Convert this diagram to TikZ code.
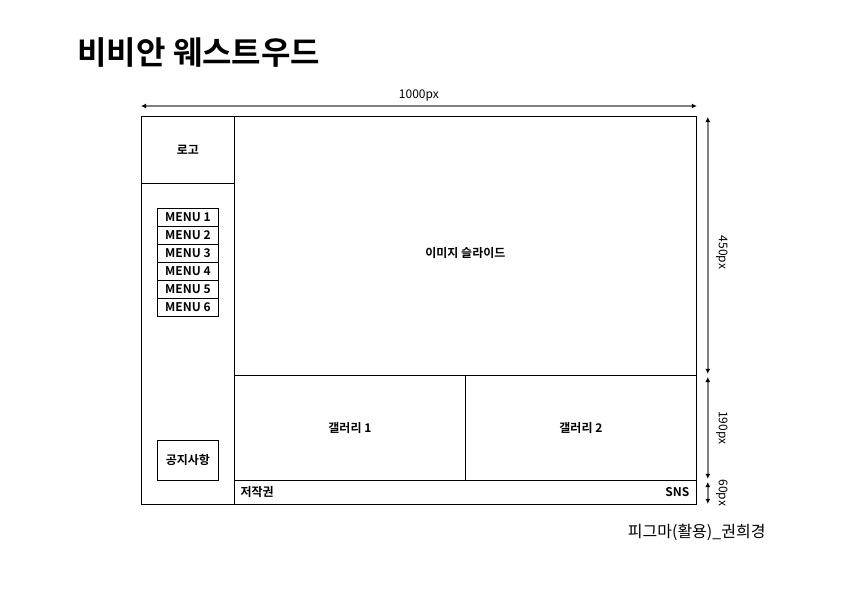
\documentclass[tikz,border=0pt]{standalone}
\usepackage{fontspec}
\setmainfont{Noto Sans CJK KR}[BoldFont={Noto Sans CJK KR Bold}]
\usetikzlibrary{arrows.meta}

\tikzset{
  box/.style={draw, line width=0.8pt, inner sep=0pt, anchor=north west,
    font=\bfseries\fontsize{12}{14}\selectfont},
  dim/.style={draw=gray, line width=1.5pt,
    {Latex[length=5pt,width=5pt,color=black]}-{Latex[length=5pt,width=5pt,color=black]}},
  dimtext/.style={font=\fontsize{12}{14}\selectfont}
}

\begin{document}
\begin{tikzpicture}[x=1pt,y=-1pt]
\useasboundingbox (0,0) rectangle (842,595);

% title
\node[anchor=west, font=\bfseries\fontsize{32}{38}\selectfont] (title) at (74,53) {비비안 웨스트우드};

% left column
\node[box, minimum width=93pt, minimum height=67pt] (logo) at (141,116) {로고};
\node[box, minimum width=93pt, minimum height=321pt] (side) at (141,183) {};
\foreach \i in {1,...,6}
\node[box, minimum width=61pt, minimum height=18pt] (menu\i) at (157,{208+(\i-1)*18}) {MENU \i};
\node[box, minimum width=61pt, minimum height=40pt] (notice) at (157,440) {공지사항};

% main area
\node[box, minimum width=462pt, minimum height=259pt] (slider) at (234,116) {};
\node[font=\bfseries\fontsize{12}{14}\selectfont] (slidertext) at ([yshift=-7pt]slider.center) {이미지 슬라이드};
\node[box, minimum width=231pt, minimum height=105pt] (gallery1) at (234,375) {갤러리 1};
\node[box, minimum width=231pt, minimum height=105pt] (gallery2) at (465,375) {갤러리 2};
\node[box, minimum width=462pt, minimum height=24pt] (footer) at (234,480) {};
\node[anchor=west, font=\bfseries\fontsize{12}{14}\selectfont] (copy) at ([xshift=3pt]footer.west) {저작권};
\node[anchor=east, font=\bfseries\fontsize{12}{14}\selectfont] (sns) at ([xshift=-4pt]footer.east) {SNS};

% width
\draw[dim] ([yshift=10pt]logo.north west) coordinate (wl)
  -- node[dimtext, above=1pt] {1000px} ([yshift=10pt]slider.north east) coordinate (wr);

% heights
\draw[dim] ([xshift=11pt,yshift=-1pt]slider.north east) coordinate (h1)
  -- node[dimtext, midway, xshift=14pt, yshift=-7pt, rotate=-90] {450px} ([xshift=11pt,yshift=2pt]slider.south east) coordinate (h2);
\draw[dim] ([xshift=11pt,yshift=-2pt]gallery2.north east) coordinate (h3)
  -- node[dimtext, midway, xshift=14pt, rotate=-90] {190px} ([xshift=11pt,yshift=2pt]gallery2.south east) coordinate (h4);
\draw[dim] ([xshift=11pt,yshift=-2pt]footer.north east) coordinate (h5)
  -- node[dimtext, midway, xshift=14pt, rotate=-90] {60px} ([xshift=11pt,yshift=1pt]footer.south east) coordinate (h6);

% credit
\node[anchor=east, font=\fontsize{16}{19}\selectfont] (credit) at (769,532) {피그마(활용)\_권희경};
\end{tikzpicture}
\end{document}
